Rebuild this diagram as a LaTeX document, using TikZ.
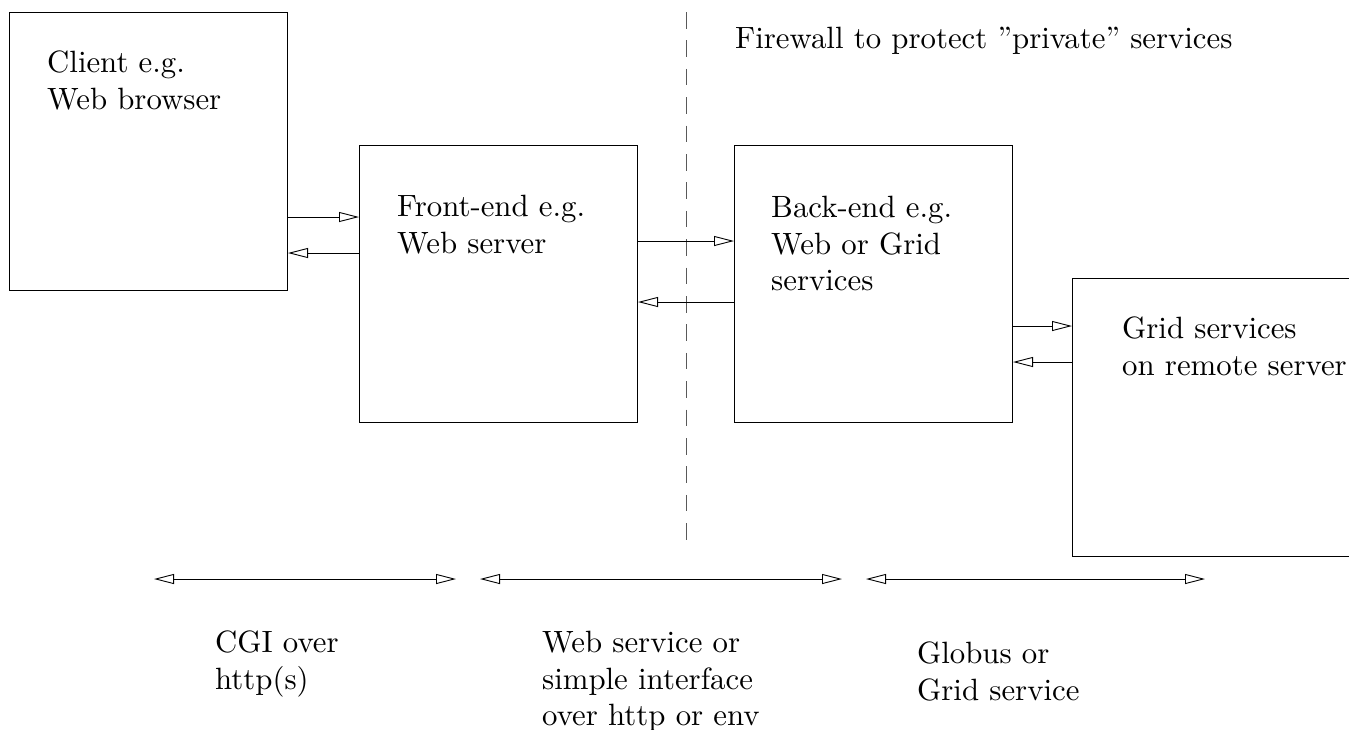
\documentclass[tikz,border=0pt]{standalone}
\usepackage{fontspec}
\newfontfamily\lmten{lmroman10-regular}[Extension=.otf,Ligatures=TeX]
\usetikzlibrary{arrows.meta}
\begin{document}
\begin{tikzpicture}[x=1pt,y=-1pt,
  box/.style={draw,line width=1pt,minimum width=278pt,minimum height=278pt,inner sep=0pt,anchor=north west},
  txt/.style={anchor=north west,inner sep=0pt,align=left,font=\lmten\fontsize{30.8}{36.5}\selectfont},
  arr/.style={line width=0.9pt,-{Triangle[open,length=20pt,width=10pt]}},
  dbl/.style={line width=0.9pt,{Triangle[open,length=20pt,width=10pt]}-{Triangle[open,length=20pt,width=10pt]}},
  fw/.style={line width=0.9pt,black!65,dash pattern=on 16.5pt off 11.9pt}]
\useasboundingbox (0,0) rectangle (1349,729);
% boxes
\node[box] (client) at (9,12) {};
\node[box,minimum height=277pt] (front) at (359,145) {};
\node[box,minimum height=277pt] (back) at (734,145) {};
\node[box] (grid) at (1072,278) {};
% texts
\node[txt] (tclient) at (47,51) {Client e.g.\\Web browser};
\node[txt] (tfront) at (397,195) {Front-end e.g.\\Web server};
\node[txt] (tback) at (771,196) {Back-end e.g.\\Web or Grid\\services};
\node[txt] (tgrid) at (1122,317) {Grid services\\on remote server};
\node[txt] (tfw) at (735,27) {Firewall to protect \textquotedblright private\textquotedblright{} services};
\node[txt] (tcgi) at (215,631) {CGI over\\http(s)};
\node[txt] (tws) at (542,631) {Web service or\\simple interface\\over http or env};
\node[txt] (tglob) at (917,642) {Globus or\\Grid service};
% firewall
\coordinate (fwtop) at (686,12);
\coordinate (fwbot) at (686,540);
\draw[fw] (fwtop) -- (fwbot);
% connectors
\draw[arr] ([yshift=-205pt]client.north east) -- ([yshift=-72pt]front.north west);
\draw[arr] ([yshift=-108pt]front.north west) -- ([yshift=-241pt]client.north east);
\draw[arr] ([yshift=-96pt]front.north east) -- ([yshift=-96pt]back.north west);
\draw[arr] ([yshift=-157pt]back.north west) -- ([yshift=-157pt]front.north east);
\draw[arr] ([yshift=-181pt]back.north east) -- ([yshift=-48pt]grid.north west);
\draw[arr] ([yshift=-84pt]grid.north west) -- ([yshift=-217pt]back.north east);
% bottom ranges
\coordinate (r1a) at (154,579); \coordinate (r1b) at (456,579);
\coordinate (r2a) at (480,579); \coordinate (r2b) at (842,579);
\coordinate (r3a) at (866,579); \coordinate (r3b) at (1205,579);
\draw[dbl] (r1a) -- (r1b);
\draw[dbl] (r2a) -- (r2b);
\draw[dbl] (r3a) -- (r3b);
\end{tikzpicture}
\end{document}
